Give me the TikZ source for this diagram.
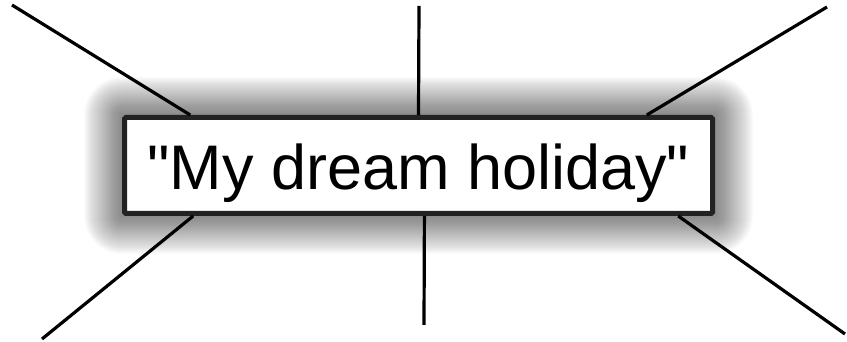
\documentclass[tikz,border=0pt]{standalone}
\usepackage{fontspec}
\newfontfamily\labelfont{Liberation Sans}
\usetikzlibrary{calc,backgrounds}
\definecolor{boxline}{HTML}{222222}
\begin{document}
\begin{tikzpicture}[x=1pt,y=1pt,
  titlebox/.style={draw=boxline, line width=5pt, fill=white, rounded corners=1.5pt,
    minimum width=588pt, minimum height=96pt, inner sep=0pt,
    text height=48pt, text depth=0pt,
    font=\labelfont\fontsize{63}{70}\selectfont},
  glowlayer/.style={fill=black, fill opacity=0.017},
  ray/.style={line width=3.2pt, black}]
\useasboundingbox (0,0) rectangle (847,342);
\node[titlebox] (box) at (418.5,176.5) {"My dream holiday"};
\begin{scope}[on background layer]
  \foreach \i in {-2,-1,...,38} {
    \fill[glowlayer, rounded corners={max(\i,1)*1pt}]
      ($(box.south west)+(-\i,-\i)$) rectangle ($(box.north east)+(\i,\i)$);
  }
\end{scope}
\coordinate (tl) at (12,337);
\coordinate (tm) at (419,336);
\coordinate (tr) at (827,335);
\coordinate (bl) at (42,3);
\coordinate (bm) at (424,17);
\coordinate (br) at (845,8);
\draw[ray] (tl) -- ($(box.north west)!0.115!(box.north east)$);
\draw[ray] (tm) -- ($(box.north west)!0.5!(box.north east)$);
\draw[ray] (tr) -- ($(box.north west)!0.885!(box.north east)$);
\draw[ray] (bl) -- ($(box.south west)!0.12!(box.south east)$);
\draw[ray] (bm) -- ($(box.south west)!0.51!(box.south east)$);
\draw[ray] (br) -- ($(box.south west)!0.938!(box.south east)$);
\end{tikzpicture}
\end{document}
